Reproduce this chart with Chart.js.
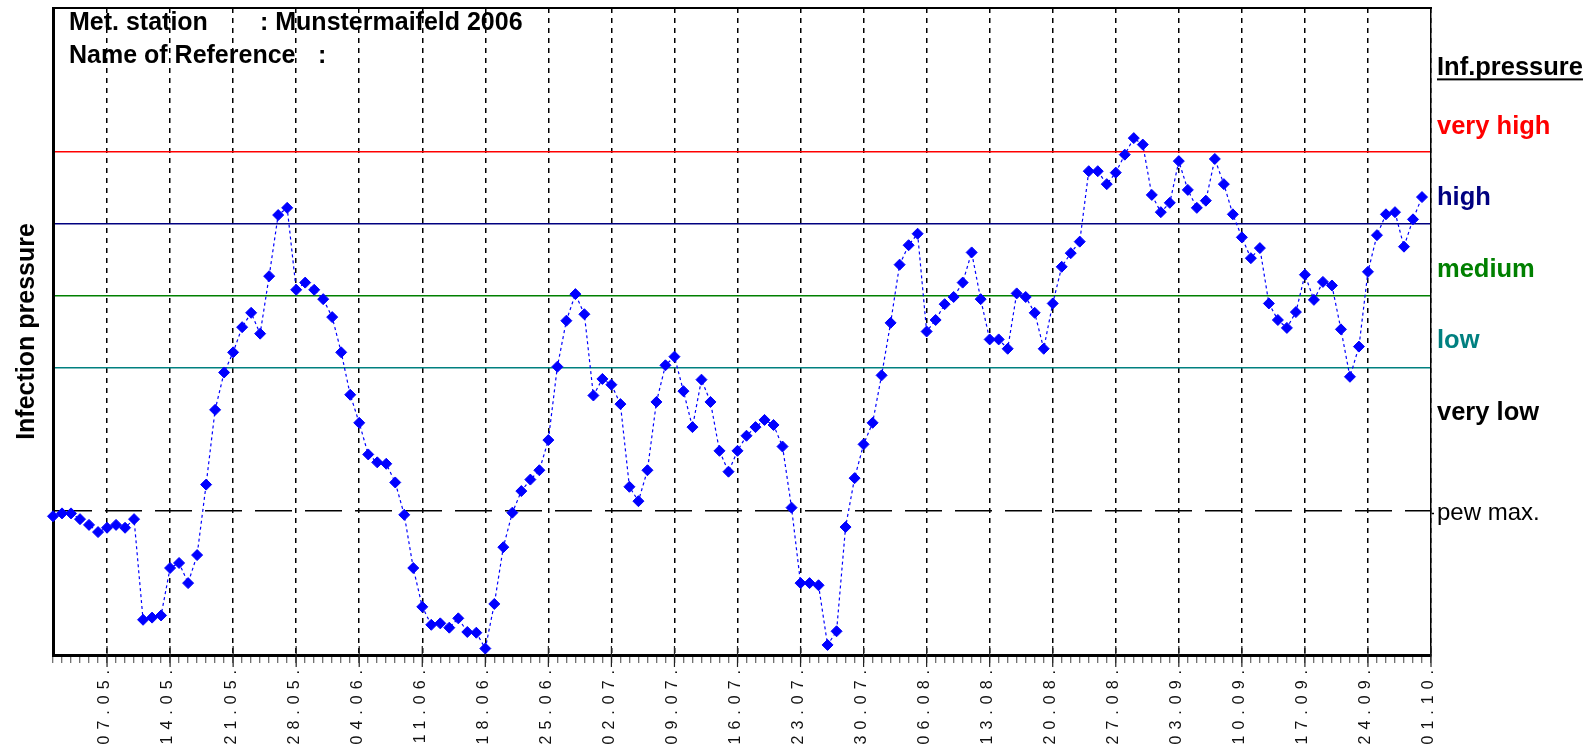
<!DOCTYPE html>
<html>
<head>
<meta charset="utf-8">
<script src="https://cdn.jsdelivr.net/npm/chart.js@4.4.1/dist/chart.umd.min.js"></script>
<style>
html,body{margin:0;padding:0;background:#fff;}
#wrap{width:1595px;height:745px;position:relative;}
</style>
</head>
<body>
<div id="wrap"><canvas id="c" width="1595" height="745"></canvas></div>
<script>
// ---- categories: one per day, 01.05.2006 .. 01.10.2006
const firstDay = [2006, 4, 1];
const dayCount = 154;
const categories = [];
for (let k = 0; k < dayCount; k++) {
  const d = new Date(Date.UTC(firstDay[0], firstDay[1], firstDay[2] + k));
  categories.push(String(d.getUTCDate()).padStart(2, '0') + '.' + String(d.getUTCMonth() + 1).padStart(2, '0') + '.');
}

// ---- weekly tick labels shown on the x axis
const tickLabels = ['07.05.','14.05.','21.05.','28.05.','04.06.','11.06.','18.06.','25.06.','02.07.','09.07.','16.07.','23.07.','30.07.','06.08.','13.08.','20.08.','27.08.','03.09.','10.09.','17.09.','24.09.','01.10.'];

// ---- daily infection pressure (01.05. .. 30.09.)
const infectionPressure = [
  1.93,1.97,1.97,1.89,1.81,1.71,1.77,1.81,1.77,1.89,
  0.49,0.52,0.55,1.21,1.28,1.00,1.39,2.37,3.41,3.93,
  4.21,4.56,4.76,4.47,5.27,6.12,6.22,5.08,5.18,5.08,
  4.95,4.70,4.21,3.62,3.23,2.79,2.68,2.66,2.40,1.95,
  1.21,0.67,0.42,0.44,0.38,0.51,0.32,0.31,0.09,0.71,
  1.50,1.98,2.28,2.44,2.57,2.99,4.01,4.65,5.02,4.74,
  3.61,3.84,3.76,3.49,2.34,2.14,2.57,3.52,4.03,4.15,
  3.67,3.17,3.83,3.52,2.84,2.55,2.84,3.05,3.17,3.27,
  3.20,2.90,2.05,1.00,1.00,0.97,0.14,0.33,1.78,2.46,
  2.93,3.23,3.89,4.62,5.43,5.70,5.86,4.50,4.66,4.88,
  4.98,5.18,5.60,4.95,4.39,4.39,4.26,5.03,4.98,4.76,
  4.26,4.89,5.40,5.59,5.75,6.73,6.73,6.55,6.71,6.96,
  7.19,7.10,6.40,6.16,6.29,6.87,6.47,6.22,6.32,6.90,
  6.55,6.13,5.81,5.52,5.66,4.89,4.66,4.55,4.77,5.29,
  4.94,5.19,5.14,4.53,3.87,4.29,5.33,5.84,6.13,6.16,
  5.68,6.06,6.37
];

// ---- threshold lines (pew max, low, medium, high, very high)
const levelValues = [2, 4, 5, 6, 7];
const levelColors = ['#000000', '#008080', '#008000', '#000080', '#FF0000'];

// ---- zone labels on the right
const zoneLabels    = ['pew max.', 'very low', 'low', 'medium', 'high', 'very high', 'Inf.pressure'];
const zonePositions = [1.97, 3.37, 4.37, 5.35, 6.36, 7.35, 8.16];
const zoneColors    = ['#000000', '#000000', '#008080', '#008000', '#000080', '#FF0000', '#000000'];

// ---- header text
const headerLeft  = ['Met. station', 'Name of Reference'];
const headerRight = [': Munstermaifeld 2006', ':'];

const FONT = '"Liberation Sans", Arial, sans-serif';
const isWeekly = i => tickLabels.includes(categories[i]);

const headerPlugin = {
  id: 'header',
  beforeDraw(chart) {
    const ctx = chart.ctx;
    ctx.save();
    ctx.fillStyle = '#000';
    ctx.font = 'bold 25px ' + FONT;
    ctx.textBaseline = 'middle';
    ctx.fillText(headerLeft[0], 69, 23);
    ctx.fillText(headerRight[0], 260, 23);
    ctx.fillText(headerLeft[1], 69, 56);
    ctx.fillText(headerRight[1], 318, 56);
    ctx.restore();

    // spaced-out x tick labels
    const sc = chart.scales.x;
    if (sc && !sc._spacedPatch) {
      const orig = sc.drawLabels;
      sc.drawLabels = function (area) {
        const c = this.ctx;
        c.save();
        try { c.letterSpacing = '6px'; } catch (e) {}
        c.translate(-2, 0);
        orig.call(this, area);
        c.restore();
      };
      sc._spacedPatch = true;
    }
  }
};

const majorTickPlugin = {
  id: 'majorTicks',
  beforeDatasetsDraw(chart) {
    const xs = chart.scales.x;
    const ctx = chart.ctx;
    const b = chart.chartArea.bottom;
    ctx.save();
    ctx.strokeStyle = '#222';
    ctx.lineWidth = 1.2;
    categories.forEach((c, i) => {
      if (isWeekly(i)) {
        const px = xs.getPixelForValue(i);
        ctx.beginPath();
        ctx.moveTo(px, b - 9);
        ctx.lineTo(px, b + 12);
        ctx.stroke();
      }
    });
    ctx.restore();
  }
};

const underlinePlugin = {
  id: 'underline',
  afterDraw(chart) {
    const y2 = chart.scales.y2;
    const ctx = chart.ctx;
    const idx = zoneLabels.length - 1;
    const py = y2.getPixelForValue(zonePositions[idx]);
    ctx.save();
    ctx.font = 'bold 25.5px ' + FONT;
    const w = ctx.measureText(zoneLabels[idx]).width;
    ctx.fillStyle = '#000';
    ctx.fillRect(y2.left + 6, py + 10, w, 2);
    ctx.restore();
  }
};

const noPad = s => { s.paddingTop = 0; s.paddingBottom = 0; s.paddingLeft = 0; s.paddingRight = 0; };

new Chart(document.getElementById('c'), {
  type: 'line',
  data: {
    labels: categories,
    datasets: [{
      label: 'Infection pressure',
      data: infectionPressure,
      borderColor: '#0000FF',
      backgroundColor: '#0000FF',
      borderWidth: 1.2,
      borderDash: [3, 3],
      tension: 0,
      pointStyle: 'rectRot',
      pointRadius: 5.5,
      pointBorderWidth: 1,
      pointBackgroundColor: '#0000FF',
      pointBorderColor: '#0000FF',
      clip: false,
      yAxisID: 'y',
      xAxisID: 'x'
    }]
  },
  options: {
    responsive: false,
    animation: false,
    events: [],
    layout: { padding: { top: 8, left: 0, right: 0, bottom: 0 } },
    plugins: { legend: { display: false }, tooltip: { enabled: false }, title: { display: false } },
    scales: {
      x: {
        type: 'category',
        offset: false,
        afterFit: s => { s.height = 90; noPad(s); },
        grid: {
          display: true,
          drawOnChartArea: true,
          drawTicks: true,
          tickLength: 8,
          tickWidth: 1,
          tickColor: '#444',
          lineWidth: 1.5,
          color: ctx => (ctx.tick && isWeekly(ctx.index)) ? '#000' : 'rgba(0,0,0,0)'
        },
        border: { display: true, width: 3, color: '#000', dash: ctx => ctx.tick ? [5, 5] : [] },
        ticks: {
          autoSkip: false,
          minRotation: 90,
          maxRotation: 90,
          padding: 1,
          color: '#111',
          font: { family: FONT, size: 16 },
          callback: (v, i) => isWeekly(i) ? categories[i] : ''
        }
      },
      xTop: {
        type: 'linear',
        position: 'top',
        min: 0, max: 1,
        afterFit: s => { s.height = 0; noPad(s); },
        grid: { display: false, drawTicks: false },
        ticks: { display: false },
        border: { display: true, width: 2, color: '#000' }
      },
      y: {
        type: 'linear',
        position: 'left',
        min: 0, max: 9,
        afterBuildTicks: s => { s.ticks = levelValues.map(v => ({ value: v })); },
        afterFit: s => { s.width = 53; noPad(s); },
        title: {
          display: true,
          text: 'Infection pressure',
          color: '#000',
          font: { family: FONT, size: 25, weight: 'bold' },
          padding: { top: 12, bottom: 0 }
        },
        ticks: { display: false },
        grid: {
          drawTicks: false,
          lineWidth: 1.6,
          color: ctx => ctx.tick ? levelColors[ctx.index] : '#000'
        },
        border: { display: true, width: 3, color: '#000', dash: ctx => (ctx.tick && ctx.index === 0) ? [37, 13] : [] }
      },
      y2: {
        type: 'linear',
        position: 'right',
        min: 0, max: 9,
        afterBuildTicks: s => { s.ticks = zonePositions.map(v => ({ value: v })); },
        afterFit: s => { s.width = 164; noPad(s); },
        grid: {
          display: true,
          drawOnChartArea: false,
          drawTicks: true,
          tickLength: 3,
          tickWidth: 1.5,
          tickColor: ctx => (ctx.tick && ctx.index === 0) ? '#000' : 'rgba(0,0,0,0)'
        },
        border: { display: true, width: 1.5, color: '#000' },
        ticks: {
          autoSkip: false,
          padding: 3,
          callback: (v, i) => zoneLabels[i],
          color: ctx => zoneColors[ctx.index] || '#000',
          font: ctx => (ctx.index === 0)
            ? { family: FONT, size: 24, weight: 'normal' }
            : { family: FONT, size: 25.5, weight: 'bold' }
        }
      }
    }
  },
  plugins: [headerPlugin, majorTickPlugin, underlinePlugin]
});
</script>
</body>
</html>
